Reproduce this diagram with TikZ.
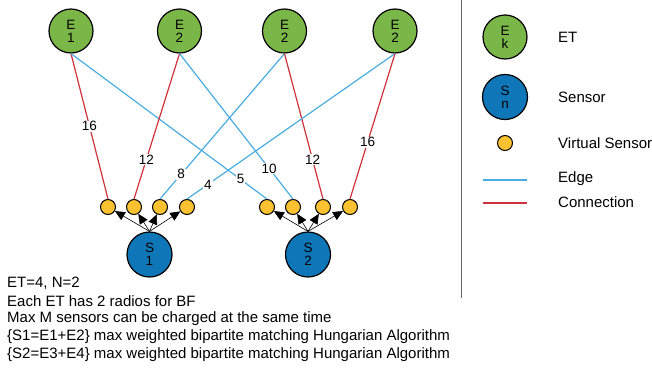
\documentclass[tikz,border=0pt]{standalone}
\usepackage{fontspec}
\setmainfont{Liberation Sans}
\usetikzlibrary{arrows.meta}
\definecolor{etgreen}{HTML}{7AB648}
\definecolor{snblue}{HTML}{0F77B8}
\definecolor{vsyellow}{HTML}{FAC131}
\definecolor{edgeblue}{HTML}{4AADE0}
\definecolor{connred}{HTML}{D0323C}
\tikzset{
  etnode/.style={circle,draw=black,line width=1.2pt,fill=etgreen,minimum size=44pt,inner sep=0pt,
    font=\fontsize{13.5}{16}\selectfont,align=center},
  snnode/.style={circle,draw=black,line width=1.2pt,fill=snblue,minimum size=45pt,inner sep=0pt,
    font=\fontsize{13.5}{16}\selectfont,align=center},
  vsnode/.style={circle,draw=black,line width=1pt,fill=vsyellow,minimum size=15pt,inner sep=0pt},
  edgeline/.style={draw=edgeblue,line width=1.2pt},
  connline/.style={draw=connred,line width=1.2pt},
  wlabel/.style={fill=white,inner sep=1pt,font=\fontsize{13.5}{15}\selectfont},
  vsarrow/.style={draw=black,line width=0.6pt,-{Triangle[length=10pt,width=9pt]}},
  txt/.style={anchor=west,font=\fontsize{15}{17}\selectfont,inner sep=0pt},
}
\begin{document}
\begin{tikzpicture}[x=1pt,y=-1pt]
\useasboundingbox (0,0) rectangle (652,370);

% energy transmitters
\node[etnode] (e1) at (71,31) {E\\[-3pt]1};
\node[etnode] (e2) at (179.5,31) {E\\[-3pt]2};
\node[etnode] (e3) at (284.5,31) {E\\[-3pt]2};
\node[etnode] (e4) at (395,31) {E\\[-3pt]2};

% sensors
\node[snnode] (s1) at (149.5,254.5) {S\\[-3pt]1};
\node[snnode] (s2) at (308,254.5) {S\\[-3pt]2};

% virtual sensors
\node[vsnode] (v11) at (108,207) {};
\node[vsnode] (v12) at (134,207) {};
\node[vsnode] (v13) at (160,207) {};
\node[vsnode] (v14) at (187,207) {};
\node[vsnode] (v21) at (267,207) {};
\node[vsnode] (v22) at (293,207) {};
\node[vsnode] (v23) at (323,207) {};
\node[vsnode] (v24) at (350,207) {};

% sensor to virtual sensor arrows
\foreach \v in {v11,v12,v13,v14} \draw[vsarrow] (s1.north) -- (\v);
\foreach \v in {v21,v22,v23,v24} \draw[vsarrow] (s2.north) -- (\v);

% edges and connections with weights
\draw[connline] (e1.south) -- node[wlabel,pos=0.5]{16} (v11.north);
\draw[edgeline] (e1.south) -- node[wlabel,pos=0.865]{5} (v21.north);
\draw[connline] (e2.south) -- node[wlabel,pos=0.73]{12} (v12.north);
\draw[edgeline] (e2.south) -- node[wlabel,pos=0.79]{10} (v22.north);
\draw[edgeline] (e3.south) -- node[wlabel,pos=0.83]{8} (v13.north);
\draw[connline] (e3.south) -- node[wlabel,pos=0.73]{12} (v23.north);
\draw[edgeline] (e4.south) -- node[wlabel,pos=0.9]{4} (v14.north);
\draw[connline] (e4.south) -- node[wlabel,pos=0.61]{16} (v24.north);

% divider
\draw[draw=gray!80!black,line width=1pt] (461,0) -- (461,298);

% legend
\node[etnode] (lge) at (505,37) {E\\[-3pt]k};
\node[txt] (lgeT) at (558,37) {ET};
\node[snnode] (lgs) at (505,97) {S\\[-3pt]n};
\node[txt] (lgsT) at (558,97) {Sensor};
\node[vsnode] (lgv) at (505,143) {};
\node[txt] (lgvT) at (558,143) {Virtual Sensor};
\coordinate (lgea) at (483,180);
\coordinate (lgeb) at (527,180);
\draw[edgeline] (lgea) -- (lgeb);
\node[txt] (lgedT) at (558,179) {Edge};
\coordinate (lgca) at (483,203);
\coordinate (lgcb) at (527,203);
\draw[connline] (lgca) -- (lgcb);
\node[txt] (lgcT) at (558,202) {Connection};

% notes
\node[txt] (n1) at (7,283) {ET=4, N=2};
\node[txt] (n2) at (7,301) {Each ET has 2 radios for BF};
\node[txt] (n3) at (7,319) {Max M sensors can be charged at the same time};
\node[txt] (n4) at (7,337) {\{S1=E1+E2\} max weighted bipartite matching Hungarian Algorithm};
\node[txt] (n5) at (7,355) {\{S2=E3+E4\} max weighted bipartite matching Hungarian Algorithm};
\end{tikzpicture}
\end{document}
